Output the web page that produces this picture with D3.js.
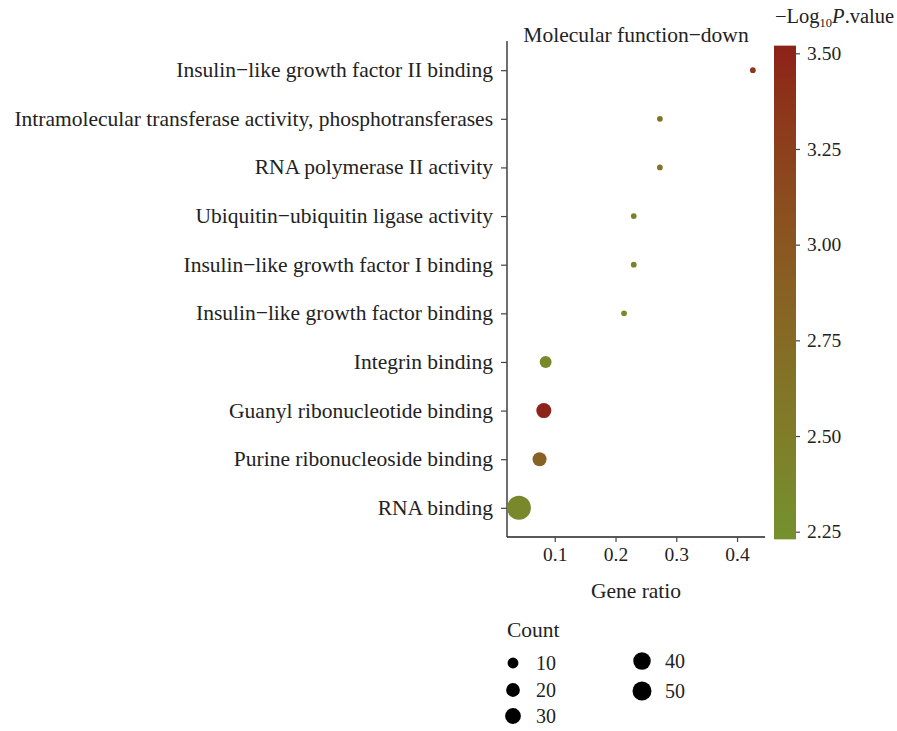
<!DOCTYPE html>
<html>
<head>
<meta charset="utf-8">
<script src="https://cdn.jsdelivr.net/npm/d3@7"></script>
<style>
  html, body { margin: 0; padding: 0; background: #fff; }
  svg text, svg tspan { font-family: "Liberation Serif", "DejaVu Serif", serif; fill: #222; }
</style>
</head>
<body>
<svg id="chart" width="897" height="731"></svg>
<script>
// GO molecular function terms, top to bottom
const terms = [
  "Insulin\u2212like growth factor II binding",
  "Intramolecular transferase activity, phosphotransferases",
  "RNA polymerase II activity",
  "Ubiquitin\u2212ubiquitin ligase activity",
  "Insulin\u2212like growth factor I binding",
  "Insulin\u2212like growth factor binding",
  "Integrin binding",
  "Guanyl ribonucleotide binding",
  "Purine ribonucleoside binding",
  "RNA binding"
];
const geneRatio = [0.426, 0.273, 0.273, 0.230, 0.230, 0.214, 0.085, 0.082, 0.075, 0.041];
const geneCount = [3, 3, 3, 3, 3, 3, 13, 26, 21, 92];
const negLogP   = [3.32, 2.62, 2.62, 2.45, 2.45, 2.32, 2.36, 3.50, 2.85, 2.36];

const xTicks = [0.1, 0.2, 0.3, 0.4];
const colorTicks = [2.25, 2.50, 2.75, 3.00, 3.25, 3.50];
const countLegend = [10, 20, 30, 40, 50];

const svg = d3.select("#chart");
const serif = "'Liberation Serif', serif";

// panel geometry
const panelLeft = 507, panelRight = 765, panelTop = 41, panelBottom = 537;

const x = d3.scaleLinear().domain([0.0214, 0.446]).range([panelLeft, panelRight]);
const y = d3.scalePoint().domain(terms).range([panelTop, panelBottom]).padding(0.6);

const lowColor = "#76902e", highColor = "#8d2419";
const color = d3.scaleLinear().domain([2.25, 3.5]).range([lowColor, highColor])
  .interpolate(d3.interpolateLab);

const minCount = 3, maxCount = 92;
const rBase = d3.scaleSqrt().domain([0, maxCount - minCount]).range([2.9, 12]);
const r = v => rBase(v - minCount);

// axes
const xAxis = d3.axisBottom(x).tickValues(xTicks).tickFormat(d3.format(".1f"))
  .tickSizeOuter(0).tickSize(5).tickPadding(5);
const gx = svg.append("g").attr("transform", `translate(0,${panelBottom})`).call(xAxis);
gx.select(".domain").attr("stroke", "#222").attr("stroke-width", 1.3)
  .attr("d", `M${panelLeft},0H${panelRight}`);
gx.selectAll(".tick line").attr("stroke", "#444").attr("stroke-width", 1.2);
gx.selectAll(".tick text").attr("font-size", 19.5).attr("fill", "#222")
  .style("font-family", serif);

const yAxis = d3.axisLeft(y).tickSizeOuter(0).tickSize(6).tickPadding(8);
const gy = svg.append("g").attr("transform", `translate(${panelLeft},0)`).call(yAxis);
gy.select(".domain").attr("stroke", "#222").attr("stroke-width", 1.3)
  .attr("d", `M0,${panelTop}V${panelBottom}`);
gy.selectAll(".tick line").attr("stroke", "#444").attr("stroke-width", 1.2);
gy.selectAll(".tick text").attr("font-size", 21.5).attr("fill", "#222")
  .attr("dy", "0.30em")
  .style("font-family", serif);

// points
const rows = terms.map((t, i) => ({ term: t, ratio: geneRatio[i], count: geneCount[i], p: negLogP[i] }));
svg.append("g").selectAll("circle").data(rows).join("circle")
  .attr("cx", d => x(d.ratio))
  .attr("cy", d => y(d.term))
  .attr("r", d => r(d.count))
  .attr("fill", d => color(d.p));

// title and axis title
svg.append("text").attr("x", (panelLeft + panelRight) / 2).attr("y", 42)
  .attr("text-anchor", "middle").attr("font-size", 21.5).text("Molecular function\u2212down");
svg.append("text").attr("x", (panelLeft + panelRight) / 2).attr("y", 598)
  .attr("text-anchor", "middle").attr("font-size", 21.5).text("Gene ratio");

// colour bar
const cbY = d3.scaleLinear().domain([2.25, 3.5]).range([531.7, 53.3]);
const cbLo = 2.23, cbHi = 3.52;
const defs = svg.append("defs");
const grad = defs.append("linearGradient").attr("id", "cbar")
  .attr("x1", 0).attr("y1", 1).attr("x2", 0).attr("y2", 0);
d3.range(0, 1.0001, 0.1).forEach(t => {
  const v = cbLo + t * (cbHi - cbLo);
  grad.append("stop").attr("offset", t).attr("stop-color", color(v));
});
svg.append("rect").attr("x", 774).attr("y", cbY(cbHi))
  .attr("width", 22).attr("height", cbY(cbLo) - cbY(cbHi))
  .attr("fill", "url(#cbar)");
const cbAxis = d3.axisRight(cbY).tickValues(colorTicks).tickFormat(d3.format(".2f"))
  .tickSize(4).tickPadding(7);
const gc = svg.append("g").attr("transform", "translate(796,0)").call(cbAxis);
gc.select(".domain").remove();
gc.selectAll(".tick line").attr("stroke", "#444").attr("stroke-width", 1.2);
gc.selectAll(".tick text").attr("font-size", 19.5).attr("fill", "#222")
  .style("font-family", serif);

const cbTitle = svg.append("text").attr("x", 775).attr("y", 23).attr("font-size", 20.5)
  .attr("fill", "#222");
cbTitle.append("tspan").attr("fill", "#222").text("\u2212Log");
cbTitle.append("tspan").attr("fill", "#222").attr("font-size", 12.5).attr("dy", 4).text("10");
cbTitle.append("tspan").attr("fill", "#222").attr("dy", -4).attr("font-style", "italic").text("P");
cbTitle.append("tspan").attr("fill", "#222").text(".value");

// size legend
svg.append("text").attr("x", 507).attr("y", 637).attr("font-size", 21.5).text("Count");
const legendPos = [
  { cx: 513, cy: 663 }, { cx: 513, cy: 690 }, { cx: 513, cy: 716 },
  { cx: 642, cy: 661 }, { cx: 642, cy: 691 }
];
const leg = svg.append("g").selectAll("g").data(countLegend).join("g")
  .attr("transform", (d, i) => `translate(${legendPos[i].cx},${legendPos[i].cy})`);
leg.append("circle").attr("r", d => r(d)).attr("fill", "#000");
leg.append("text").attr("x", 23).attr("y", 7).attr("font-size", 20).text(d => d);
</script>
</body>
</html>
